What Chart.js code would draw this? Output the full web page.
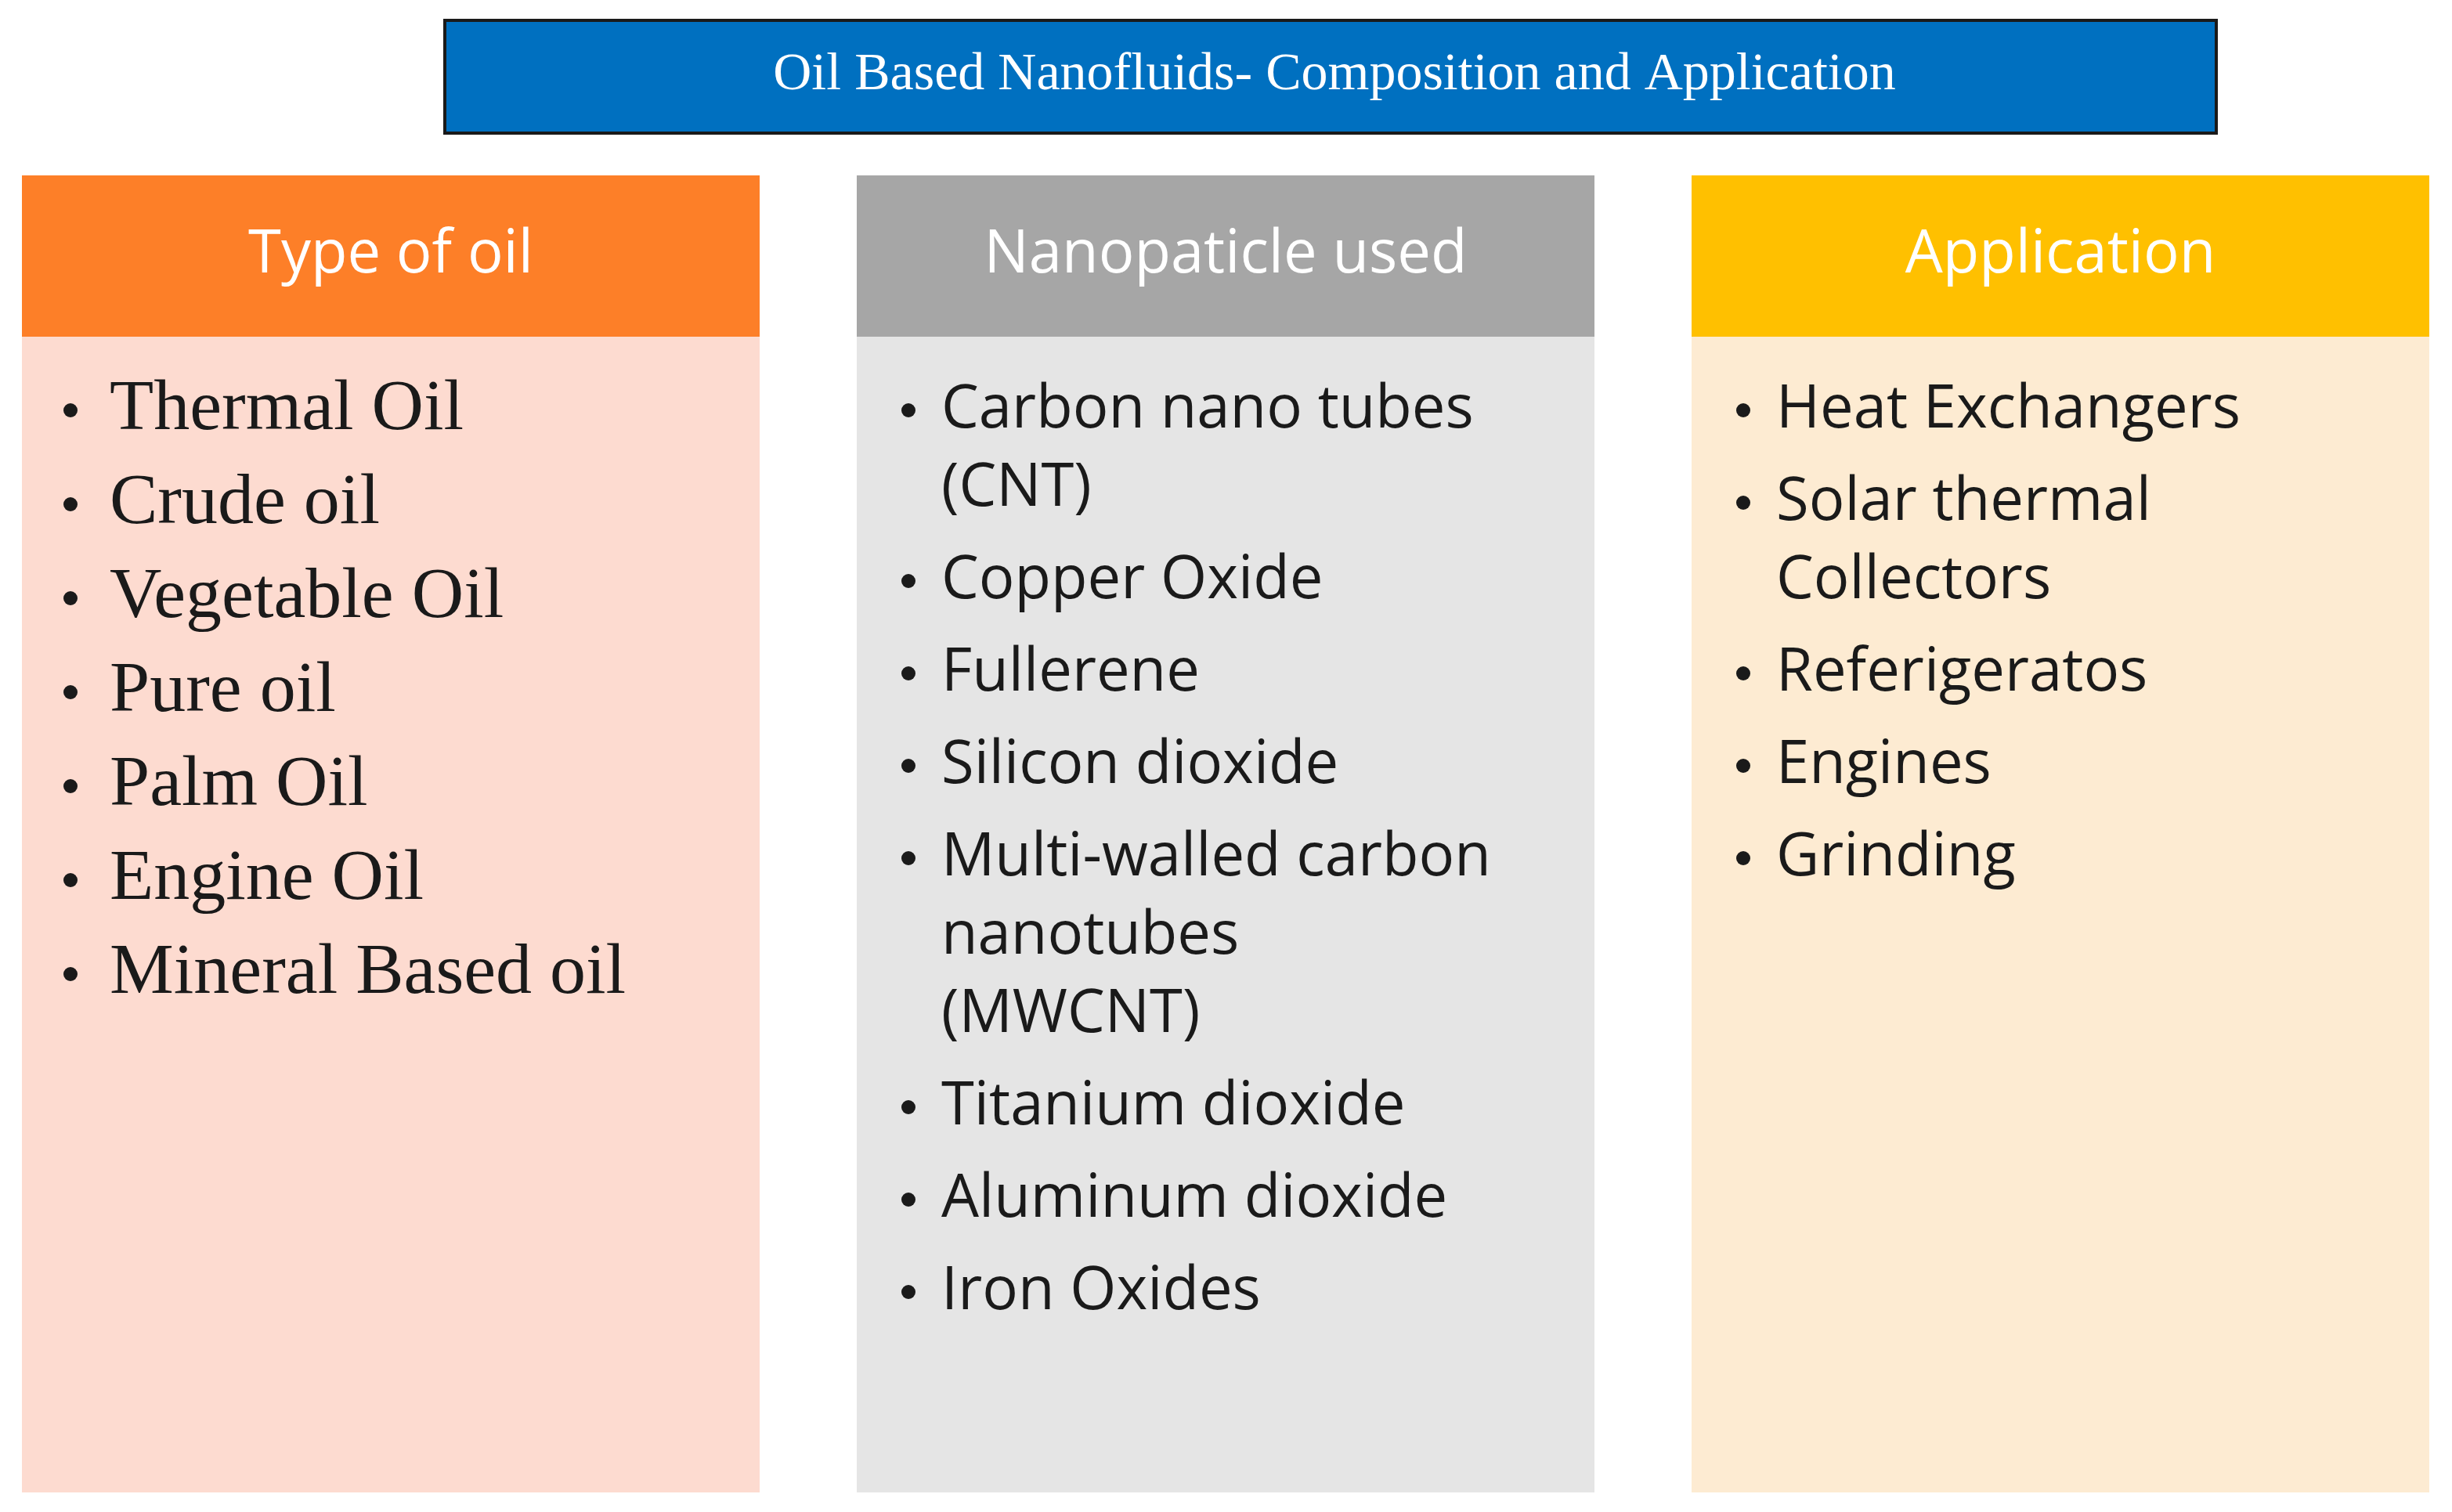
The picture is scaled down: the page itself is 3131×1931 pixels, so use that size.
<!DOCTYPE html>
<html><head><meta charset="utf-8">
<script src="https://cdn.jsdelivr.net/npm/chart.js@4"></script>
<style>html,body{margin:0;padding:0;background:#fff}canvas{display:block}</style>
</head><body>
<canvas id="c" width="3131" height="1931"></canvas>
<script>
const title = "Oil Based Nanofluids- Composition and Application";
const headers = ["Type of oil", "Nanopaticle used", "Application"];
const oilTypes = ["Thermal Oil", "Crude oil", "Vegetable Oil", "Pure oil", "Palm Oil", "Engine Oil", "Mineral Based oil"];
const nanoparticles = [["Carbon nano tubes", "(CNT)"], ["Copper Oxide"], ["Fullerene"], ["Silicon dioxide"],
  ["Multi-walled carbon", "nanotubes", "(MWCNT)"], ["Titanium dioxide"], ["Aluminum dioxide"], ["Iron Oxides"]];
const applications = [["Heat Exchangers"], ["Solar thermal", "Collectors"], ["Referigeratos"], ["Engines"], ["Grinding"]];

// layout, in units of the half-size picture
const cols = [
  { x0: 14, x1: 485, head: "#FD7F28", body: "#FDDBD0", font: "Liberation Serif", size: 46, bx: 45, tx: 70, items: oilTypes.map(t => [t]), gap: 60, wrap: 60 },
  { x0: 547, x1: 1018, head: "#A6A6A6", body: "#E5E5E5", font: "Open Sans", size: 38, bx: 580, tx: 601, items: nanoparticles, gap: 59, wrap: 50 },
  { x0: 1080, x1: 1551, head: "#FFC000", body: "#FDEBD2", font: "Open Sans", size: 38, bx: 1113, tx: 1134, items: applications, gap: 59, wrap: 50 }
];

const diagram = {
  id: "diagram",
  afterDraw(chart) {
    const ctx = chart.ctx, X = chart.scales.x, Y = chart.scales.y;
    const px = v => X.getPixelForValue(v), py = v => Y.getPixelForValue(v);
    const k = px(1) - px(0);
    ctx.save();
    ctx.fillStyle = "#fff"; ctx.fillRect(0, 0, chart.width, chart.height);
    // title box
    ctx.fillStyle = "#0070C0";
    ctx.fillRect(px(284), py(13), px(1415) - px(284), py(85) - py(13));
    ctx.strokeStyle = "#1a1a1a"; ctx.lineWidth = 2 * k;
    ctx.strokeRect(px(284), py(13), px(1415) - px(284), py(85) - py(13));
    ctx.fillStyle = "#fff"; ctx.textAlign = "center"; ctx.textBaseline = "middle";
    ctx.font = (34 * k) + "px 'Liberation Serif'";
    ctx.fillText(title, px(852), py(48));
    cols.forEach((c, i) => {
      ctx.fillStyle = c.head;
      ctx.fillRect(px(c.x0), py(112), px(c.x1) - px(c.x0), py(215) - py(112));
      ctx.fillStyle = c.body;
      ctx.fillRect(px(c.x0), py(215), px(c.x1) - px(c.x0), py(953) - py(215));
      ctx.fillStyle = "#fff"; ctx.textAlign = "center";
      ctx.font = (38 * k) + "px 'Open Sans'";
      ctx.fillText(headers[i], px((c.x0 + c.x1) / 2), py(163));
      ctx.fillStyle = "#1a1a1a"; ctx.textAlign = "left";
      ctx.font = (c.size * k) + "px '" + c.font + "'";
      let y = 262;
      c.items.forEach(lines => {
        ctx.beginPath(); ctx.arc(px(c.bx), py(y), 4.5 * k, 0, Math.PI * 2); ctx.fill();
        lines.forEach((t, j) => {
          ctx.fillText(t, px(c.tx), py(y));
          y += j < lines.length - 1 ? c.wrap : c.gap;
        });
      });
    });
    ctx.restore();
  }
};

new Chart(document.getElementById("c"), {
  type: "scatter",
  data: { datasets: [{ data: [] }] },
  options: {
    responsive: false, animation: false,
    layout: { padding: 0 },
    plugins: { legend: { display: false }, tooltip: { enabled: false } },
    scales: {
      x: { type: "linear", min: 0, max: 1565.5, display: false },
      y: { type: "linear", min: 0, max: 965.5, reverse: true, display: false }
    }
  },
  plugins: [diagram]
});
</script>
</body></html>
